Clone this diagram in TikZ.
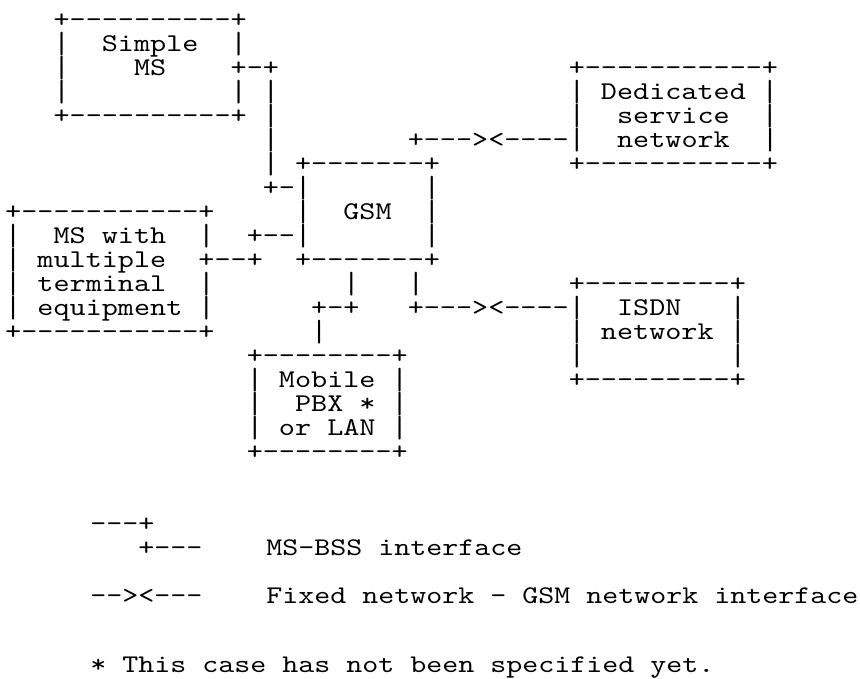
\documentclass[tikz,border=0pt]{standalone}
\usepackage{graphicx}
\usepackage{fontspec}
\newfontfamily\asciifont{lmmono10-regular.otf}[FakeStretch=1.2]
\newcommand\vb{\raisebox{-1.6pt}{\scalebox{1}[1.2]{|}}}
\newcommand\colx[1]{5.25+16.1*(#1)}
\newcommand\legx[1]{90.3+16.0*(#1)}
\newcommand\rowy[1]{-27.5-24*(#1)}
\begin{document}
\begin{tikzpicture}[x=1pt,y=1pt,
  asc/.style={anchor=base west, inner sep=0pt, outer sep=0pt,
    font=\asciifont\fontsize{25.56pt}{24pt}\selectfont},
  leg/.style={asc, font=\asciifont\fontsize{25.4pt}{24pt}\selectfont}]
\useasboundingbox[fill=white] (0,0) rectangle (860,-679);
% Simple MS
\node[asc] (s0) at ({\colx{3}},{\rowy{0}}) {+----------+};
\node[asc] (s1) at ({\colx{3}},{\rowy{1}}) {\vb~~Simple~~\vb};
\node[asc] (s2) at ({\colx{3}},{\rowy{2}}) {\vb~~~~MS~~~~+-+};
\node[asc] (s3) at ({\colx{3}},{\rowy{3}}) {\vb~~~~~~~~~~\vb~\vb};
\node[asc] (s4) at ({\colx{3}},{\rowy{4}}) {+----------+~\vb};
% Dedicated service network
\node[asc] (d2) at ({\colx{35}},{\rowy{2}}) {+-----------+};
\node[asc] (d3) at ({\colx{35}},{\rowy{3}}) {\vb~Dedicated~\vb};
\node[asc] (d4) at ({\colx{35}},{\rowy{4}}) {\vb~~service~~\vb};
\node[asc] (v5) at ({\colx{16}},{\rowy{5}}) {\vb};
\node[asc] (d5) at ({\colx{25}},{\rowy{5}}) {+---><----\vb~~network~~\vb};
\node[asc] (d6) at ({\colx{35}},{\rowy{6}}) {+-----------+};
% GSM
\node[asc] (g6) at ({\colx{16}},{\rowy{6}}) {\vb~+-------+};
\node[asc] (g7) at ({\colx{16}},{\rowy{7}}) {+-\vb~~~~~~~\vb};
\node[asc] (g8) at ({\colx{18}},{\rowy{8}}) {\vb~~GSM~~\vb};
% MS with multiple terminal equipment
\node[asc] (m8) at ({\colx{0}},{\rowy{8}}) {+-----------+};
\node[asc] (m9) at ({\colx{0}},{\rowy{9}}) {\vb~~MS~with~~\vb~~+--\vb~~~~~~~\vb};
\node[asc] (m10) at ({\colx{0}},{\rowy{10}}) {\vb~multiple~~+--+~~+-------+};
\node[asc] (m11) at ({\colx{0}},{\rowy{11}}) {\vb~terminal~~\vb};
\node[asc] (m12) at ({\colx{0}},{\rowy{12}}) {\vb~equipment~\vb};
\node[asc] (m13) at ({\colx{0}},{\rowy{13}}) {+-----------+};
% links below GSM
\node[asc] (l11) at ({\colx{21}},{\rowy{11}}) {\vb~~~\vb};
\node[asc] (l12) at ({\colx{19}},{\rowy{12}}) {+-+~~~+---><----\vb~~ISDN~~~\vb};
\node[asc] (l13) at ({\colx{19}},{\rowy{13}}) {\vb};
% ISDN network
\node[asc] (i11) at ({\colx{35}},{\rowy{11}}) {+---------+};
\node[asc] (i13) at ({\colx{35}},{\rowy{13}}) {\vb~network~\vb};
\node[asc] (i14) at ({\colx{35}},{\rowy{14}}) {\vb~~~~~~~~~\vb};
\node[asc] (i15) at ({\colx{35}},{\rowy{15}}) {+---------+};
% Mobile PBX or LAN
\node[asc] (p14) at ({\colx{15}},{\rowy{14}}) {+--------+};
\node[asc] (p15) at ({\colx{15}},{\rowy{15}}) {\vb~Mobile~\vb};
\node[asc] (p16) at ({\colx{15}},{\rowy{16}}) {\vb~~PBX~*~\vb};
\node[asc] (p17) at ({\colx{15}},{\rowy{17}}) {\vb~or~LAN~\vb};
\node[asc] (p18) at ({\colx{15}},{\rowy{18}}) {+--------+};
% legend
\node[leg] (k21) at ({\legx{0}},{\rowy{21}}) {---+};
\node[leg] (k22) at ({\legx{0}},{\rowy{22}}) {~~~+---~~~~MS-BSS~interface};
\node[leg] (k24) at ({\legx{0}},{\rowy{24}}) {--><---~~~~Fixed~network~-~GSM~network~interface};
\node[leg] (k27) at ({\legx{0}},-672) {*~This~case~has~not~been~specified~yet.};
\end{tikzpicture}
\end{document}
